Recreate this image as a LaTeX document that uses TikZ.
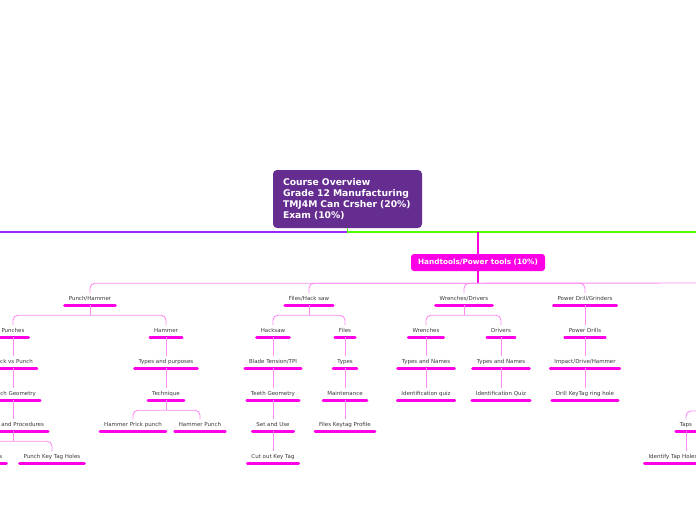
\documentclass[tikz,border=0pt]{standalone}
\usepackage{fontspec}
\setmainfont{DejaVu Sans}
\definecolor{boxpurple}{RGB}{102,45,145}
\definecolor{linepurple}{RGB}{150,40,255}
\definecolor{linegreen}{RGB}{80,255,0}
\definecolor{mag}{RGB}{255,0,230}
\definecolor{lmag}{RGB}{255,140,245}
\definecolor{txt}{RGB}{55,55,55}
\newcommand\mmlab[4]{%
  \node[lab] (#1) at (#2,#3+2) {#4};
  \draw[uline] (#1.south west) -- (#1.south east);}
\begin{document}
\begin{tikzpicture}[x=1pt,y=-1pt,
  lab/.style={font=\fontsize{5.5}{6.6}\selectfont, text=txt, text height=4pt, text depth=2.5pt, inner ysep=2.5pt, inner xsep=4pt, anchor=base},
  uline/.style={draw=mag, line width=2.7pt, line cap=round},
  br/.style={draw=lmag, line width=0.9pt, rounded corners=5pt},
  trunkp/.style={draw=linepurple, line width=1.3pt},
  trunkg/.style={draw=linegreen, line width=1.3pt},
  magline/.style={draw=mag, line width=1.1pt}]
\useasboundingbox (0,0) rectangle (696,520);
\clip (0,0) rectangle (696,520);

% main topic
\node[fill=boxpurple, rounded corners=4pt, minimum width=149pt, minimum height=58pt,
  text width=129pt, align=left, inner xsep=10pt, inner ysep=0pt,
  font=\bfseries\fontsize{9.2}{11}\selectfont, text=white] (cb) at (347.5,199)
  {Course Overview\\Grade 12 Manufacturing\\TMJ4M Can Crsher (20\%)\\Exam (10\%)};

\coordinate (pl) at (-10,232);
\coordinate (gr) at (710,232);
\coordinate (hr) at (710,283);
\coordinate (tin) at (710,411);

\draw[trunkp] (cb.south) |- (pl);
\draw[trunkg] (cb.south) |- (gr);

% Handtools
\node[fill=mag, rounded corners=3pt, minimum width=134pt, minimum height=17pt, inner sep=0pt,
  text=white, font=\bfseries\fontsize{7.3}{8}\selectfont] (ht) at (478,262.5)
  {Handtools/Power tools (10\%)};
\draw[magline] (ht.north) -- (ht.north |- gr);
\draw[magline] (ht.south) -- ++(0,12) coordinate (hj);
\draw[br] (hj) -- (hr);

% labels
\mmlab{ph}{90}{298}{Punch/Hammer}
\mmlab{pun}{13}{330}{Punches}
\mmlab{pvp}{13}{361}{Prick vs Punch}
\mmlab{pg}{13}{393}{Punch Geometry}
\mmlab{sp}{13}{424}{Safety and Procedures}
\mmlab{ppl}{-26}{456}{Punch Practice Lines}
\mmlab{pkt}{52}{456}{Punch Key Tag Holes}
\mmlab{ham}{166}{330}{Hammer}
\mmlab{tap}{166}{361}{Types and purposes}
\mmlab{tech}{166}{393}{Technique}
\mmlab{hpp}{133}{424}{Hammer Prick punch}
\mmlab{hp}{200}{424}{Hammer Punch}

\mmlab{fh}{309}{298}{Files/Hack saw}
\mmlab{hs}{273}{330}{Hacksaw}
\mmlab{fi}{345}{330}{Files}
\mmlab{bt}{273}{361}{Blade Tension/TPI}
\mmlab{ty}{345}{361}{Types}
\mmlab{tg}{273}{393}{Teeth Geometry}
\mmlab{mt}{345}{393}{Maintenance}
\mmlab{su}{273}{424}{Set and Use}
\mmlab{fkp}{345}{424}{Files Keytag Profile}
\mmlab{ck}{273}{456}{Cut out Key Tag}

\mmlab{wd}{464}{298}{Wrenches/Drivers}
\mmlab{wr}{426}{330}{Wrenches}
\mmlab{dr}{501}{330}{Drivers}
\mmlab{tn1}{426}{361}{Types and Names}
\mmlab{tn2}{501}{361}{Types and Names}
\mmlab{iq1}{426}{393}{Identification quiz}
\mmlab{iq2}{501}{393}{Identification Quiz}

\mmlab{pdg}{585}{298}{Power Drill/Grinders}
\mmlab{pd}{585}{330}{Power Drills}
\mmlab{idh}{585}{361}{Impact/Drive/Hammer}
\mmlab{dk}{585}{393}{Drill KeyTag ring hole}

\mmlab{taps}{686}{424}{Taps}
\mmlab{ith}{673}{456}{Identify Tap Holes}

% connectors from Handtools
\foreach \c in {ph,fh,wd,pdg} \draw[br] (hj) -| (\c.north);

% Punch/Hammer subtree
\draw[br] (ph.south) -- ++(0,10) coordinate (phj);
\draw[br] (phj) -| (pun.north);
\draw[br] (phj) -| (ham.north);
\draw[br] (pun.south) -- (pvp.north);
\draw[br] (pvp.south) -- (pg.north);
\draw[br] (pg.south) -- (sp.north);
\draw[br] (sp.south) -- ++(0,10) coordinate (spj);
\draw[br] (spj) -| (ppl.north);
\draw[br] (spj) -| (pkt.north);
\draw[br] (ham.south) -- (tap.north);
\draw[br] (tap.south) -- (tech.north);
\draw[br] (tech.south) -- ++(0,10) coordinate (tej);
\draw[br] (tej) -| (hpp.north);
\draw[br] (tej) -| (hp.north);

% Files/Hack saw subtree
\draw[br] (fh.south) -- ++(0,10) coordinate (fhj);
\draw[br] (fhj) -| (hs.north);
\draw[br] (fhj) -| (fi.north);
\draw[br] (hs.south) -- (bt.north);
\draw[br] (bt.south) -- (tg.north);
\draw[br] (tg.south) -- (su.north);
\draw[br] (su.south) -- (ck.north);
\draw[br] (fi.south) -- (ty.north);
\draw[br] (ty.south) -- (mt.north);
\draw[br] (mt.south) -- (fkp.north);

% Wrenches/Drivers subtree
\draw[br] (wd.south) -- ++(0,10) coordinate (wdj);
\draw[br] (wdj) -| (wr.north);
\draw[br] (wdj) -| (dr.north);
\draw[br] (wr.south) -- (tn1.north);
\draw[br] (tn1.south) -- (iq1.north);
\draw[br] (dr.south) -- (tn2.north);
\draw[br] (tn2.south) -- (iq2.north);

% Power Drill subtree
\draw[br] (pdg.south) -- (pd.north);
\draw[br] (pd.south) -- (idh.north);
\draw[br] (idh.south) -- (dk.north);

% Taps
\draw[br] (tin) -| (taps.north);
\draw[br] (taps.south) -- (taps.south |- ith.north);
\end{tikzpicture}
\end{document}
